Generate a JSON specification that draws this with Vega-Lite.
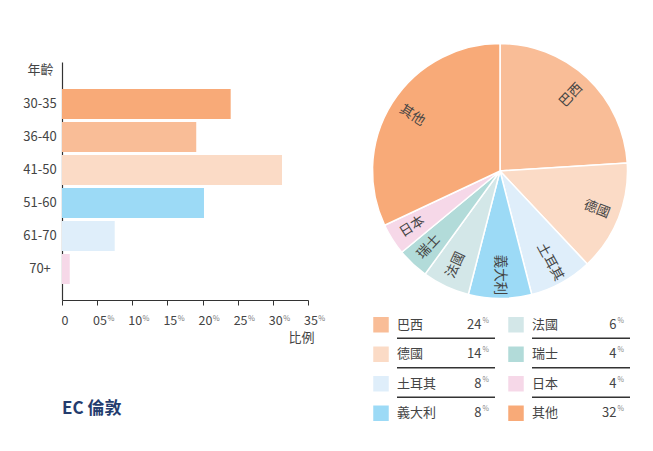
{
  "$schema": "https://vega.github.io/schema/vega-lite/v6.json",
  "padding": {"left": 22, "top": 40, "right": 5, "bottom": 5},
  "background": "#ffffff",
  "config": {"font": "Noto Sans CJK TC", "view": {"stroke": null}},
  "datasets": {
    "ages": [
      {"age": "30-35", "pct": 24.0},
      {"age": "36-40", "pct": 19.1},
      {"age": "41-50", "pct": 31.3},
      {"age": "51-60", "pct": 20.2},
      {"age": "61-70", "pct": 7.5},
      {"age": "70+", "pct": 1.1}
    ],
    "countries": [
      {"country": "巴西", "pct": 24, "idx": 1, "col": 1, "row": 1},
      {"country": "德國", "pct": 14, "idx": 2, "col": 1, "row": 2},
      {"country": "土耳其", "pct": 8, "idx": 3, "col": 1, "row": 3},
      {"country": "義大利", "pct": 8, "idx": 4, "col": 1, "row": 4},
      {"country": "法國", "pct": 6, "idx": 5, "col": 2, "row": 1},
      {"country": "瑞士", "pct": 4, "idx": 6, "col": 2, "row": 2},
      {"country": "日本", "pct": 4, "idx": 7, "col": 2, "row": 3},
      {"country": "其他", "pct": 32, "idx": 8, "col": 2, "row": 4}
    ]
  },
  "resolve": {"scale": {"color": "independent"}},
  "bounds": "flush",
  "spacing": 65,
  "hconcat": [
    {
      "width": 246,
      "height": 238,
      "data": {"name": "ages"},
      "title": {"text": "EC 倫敦", "orient": "bottom", "anchor": "start", "frame": "group", "offset": 56, "fontSize": 17, "fontWeight": "bold", "color": "#243c6e"},
      "resolve": {"scale": {"x": "independent"}, "axis": {"x": "independent"}},
      "layer": [
        {
          "mark": {"type": "bar"},
          "encoding": {
            "y": {
              "field": "age", "type": "nominal", "sort": null,
              "scale": {"domain": ["30-35", "36-40", "41-50", "51-60", "61-70", "70+"], "paddingInner": 0.0909, "paddingOuter": 0.6515, "align": 0.628},
              "axis": {
                "title": "年齡", "titleAngle": 0, "titleAlign": "center", "titleBaseline": "middle", "titleX": -22, "titleY": 7,
                "titleFontSize": 13, "titleFontWeight": "normal", "titleColor": "#444",
                "ticks": false, "labelAlign": "center", "labelPadding": 22.5, "labelFontSize": 13, "labelColor": "#444",
                "domainColor": "#333", "domainWidth": 1.2
              }
            },
            "x": {
              "field": "pct", "type": "quantitative",
              "scale": {"domain": [0, 35], "nice": false},
              "axis": {
                "orient": "bottom", "values": [0, 5, 10, 15, 20, 25, 30, 35],
                "labelExpr": "datum.value == 0 ? '0' : (datum.value < 10 ? '0' + datum.value : '' + datum.value)",
                "title": "比例", "titleAlign": "right", "titleBaseline": "middle", "titleX": 252, "titleY": 37.5,
                "titleFontSize": 13, "titleFontWeight": "normal", "titleColor": "#444",
                "domainColor": "#333", "domainWidth": 1.2, "tickColor": "#333", "tickSize": 5, "grid": false,
                "labelFontSize": 12.5, "labelColor": "#444", "labelPadding": 9, "labelOffset": 2.4,
                "labelFlush": false, "labelOverlap": false
              }
            },
            "color": {
              "field": "age", "type": "nominal",
              "scale": {"domain": ["30-35", "36-40", "41-50", "51-60", "61-70", "70+"], "range": ["#f8aa78", "#f9bd97", "#fbdbc6", "#9cdaf6", "#dfeefa", "#f6d8e8"]},
              "legend": null
            }
          }
        },
        {
          "mark": {"type": "point", "opacity": 0},
          "encoding": {
            "x": {
              "field": "pct", "type": "quantitative",
              "scale": {"domain": [0, 35], "nice": false},
              "axis": {
                "orient": "bottom", "values": [5, 10, 15, 20, 25, 30, 35], "labelExpr": "'%'",
                "title": null, "domain": false, "ticks": false, "grid": false,
                "labelAlign": "left", "labelBaseline": "top", "labelOffset": 9.8, "labelPadding": 14, "labelFontSize": 7.5, "labelColor": "#777",
                "labelFlush": false, "labelOverlap": false
              }
            }
          }
        }
      ]
    },
    {
      "bounds": "flush",
      "spacing": 30,
      "vconcat": [
        {
          "width": 254,
          "height": 218,
          "data": {"name": "countries"},
          "encoding": {
            "theta": {"field": "pct", "type": "quantitative", "stack": true},
            "order": {"field": "idx", "type": "quantitative"}
          },
          "layer": [
            {
              "mark": {"type": "arc", "outerRadius": 127.5, "stroke": "#ffffff", "strokeWidth": 1.5},
              "encoding": {
                "color": {
                  "field": "country", "type": "nominal",
                  "scale": {"domain": ["巴西", "德國", "土耳其", "義大利", "法國", "瑞士", "日本", "其他"], "range": ["#f9bd97", "#fbdbc6", "#dfeefa", "#9cdaf6", "#d3e7e8", "#b2dbd9", "#f6d8e8", "#f8aa78"]},
                  "legend": null
                }
              }
            },
            {
              "mark": {"type": "text", "radius": 104, "fontSize": 13.5, "color": "#444", "align": "center", "baseline": "middle"},
              "encoding": {
                "text": {"field": "country", "type": "nominal"},
                "angle": {
                  "field": "idx", "type": "quantitative",
                  "scale": {"type": "threshold", "domain": [1.5, 2.5, 3.5, 4.5, 5.5, 6.5, 7.5], "range": [313.2, 21.6, 61.2, 90, 295.2, 313.2, 327.6, 32.4]},
                  "legend": null
                }
              }
            }
          ]
        },
        {
          "width": 270,
          "height": 118,
          "data": {"name": "countries"},
          "encoding": {
            "x": {"field": "col", "type": "ordinal", "scale": {"type": "band", "paddingInner": 0, "paddingOuter": 0}, "axis": null},
            "y": {"field": "row", "type": "ordinal", "scale": {"type": "band", "paddingInner": 0, "paddingOuter": 0}, "axis": null}
          },
          "layer": [
            {
              "mark": {"type": "point", "shape": "square", "filled": true, "size": 240, "opacity": 1, "xOffset": -59.5},
              "encoding": {
                "color": {
                  "field": "country", "type": "nominal",
                  "scale": {"domain": ["巴西", "德國", "土耳其", "義大利", "法國", "瑞士", "日本", "其他"], "range": ["#f9bd97", "#fbdbc6", "#dfeefa", "#9cdaf6", "#d3e7e8", "#b2dbd9", "#f6d8e8", "#f8aa78"]},
                  "legend": null
                }
              }
            },
            {
              "mark": {"type": "text", "align": "left", "baseline": "middle", "xOffset": -43.5, "fontSize": 13, "color": "#444"},
              "encoding": {"text": {"field": "country", "type": "nominal"}}
            },
            {
              "mark": {"type": "text", "align": "right", "baseline": "middle", "xOffset": 41, "fontSize": 13, "color": "#444"},
              "encoding": {"text": {"field": "pct", "type": "quantitative"}}
            },
            {
              "mark": {"type": "text", "align": "left", "baseline": "middle", "xOffset": 42, "yOffset": -4, "fontSize": 7, "color": "#888"},
              "encoding": {"text": {"value": "%"}}
            },
            {
              "transform": [{"filter": "datum.row < 4"}],
              "mark": {"type": "tick", "orient": "horizontal", "size": 98, "thickness": 1.3, "color": "#333", "opacity": 1, "xOffset": 5.5, "yOffset": 13.5}
            }
          ]
        }
      ]
    }
  ]
}
